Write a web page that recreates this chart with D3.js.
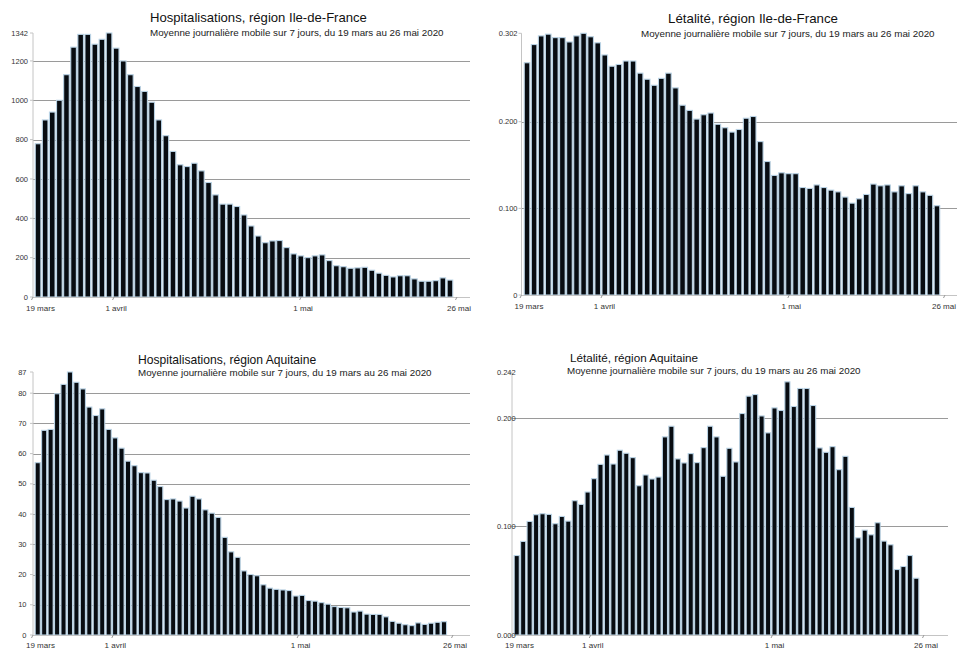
<!DOCTYPE html>
<html>
<head>
<meta charset="utf-8">
<script src="https://cdn.jsdelivr.net/npm/d3@7"></script>
<style>
  body { margin: 0; background: #fff; }
  svg { display: block; }
</style>
</head>
<body>
<script>
// Daily values, 7-day rolling mean
const hospIdf = [779, 900, 940, 1000, 1130, 1270, 1335, 1335, 1285, 1310, 1342, 1265, 1200, 1130, 1070, 1045, 990, 900, 820, 740,
  672, 663, 680, 641, 582, 519, 472, 472, 460, 417, 361, 310, 276, 285, 287, 251, 219, 209, 200, 209,
  214, 185, 159, 154, 146, 148, 151, 136, 121, 110, 102, 108, 108, 92, 80, 80, 83, 97, 86]

const letIdf = [0.268, 0.289, 0.299, 0.301, 0.297, 0.297, 0.292, 0.299, 0.302, 0.298, 0.291, 0.277, 0.264, 0.266, 0.270, 0.270,
  0.256, 0.249, 0.242, 0.250, 0.256, 0.239, 0.219, 0.213, 0.203, 0.208, 0.210, 0.197, 0.193, 0.188, 0.191, 0.204,
  0.206, 0.177, 0.154, 0.138, 0.141, 0.140, 0.140, 0.124, 0.123, 0.127, 0.124, 0.121, 0.119, 0.113, 0.106, 0.111,
  0.116, 0.128, 0.126, 0.127, 0.119, 0.126, 0.117, 0.126, 0.119, 0.115, 0.103]

const hospAq = [57, 67.7, 68, 79.8, 82.9, 87, 83.6, 81.4, 75.4, 72.6, 74.8, 68, 65.2, 61.8, 57.5, 56, 53.7, 53.6, 51.2, 49.1,
  44.8, 45, 44.3, 42, 45.9, 45, 41.4, 40.3, 38.9, 32.3, 27.5, 25.7, 21.2, 20.0, 19.6, 16.6, 15.5, 15.1, 14.9, 14.7,
  12.9, 13.1, 11.4, 11.2, 10.7, 10.2, 9.4, 9.1, 9.0, 7.6, 7.9, 6.9, 6.8, 6.8, 6.0, 4.5, 3.9, 3.4, 3.1, 4.0,
  3.5, 3.9, 4.2, 4.4]

const letAq = [0.0732, 0.0862, 0.1046, 0.1108, 0.1117, 0.1111, 0.1025, 0.1092, 0.1049, 0.1237, 0.1203, 0.1317, 0.144, 0.1572,
  0.1658, 0.1575, 0.1702, 0.1674, 0.1634, 0.1375, 0.1474, 0.1437, 0.1455, 0.1825, 0.1923, 0.1622, 0.1585, 0.1671,
  0.1588, 0.1726, 0.1923, 0.1825, 0.1462, 0.172, 0.1594, 0.204, 0.22, 0.2215, 0.2018, 0.1862, 0.2092, 0.2068,
  0.2332, 0.2105, 0.2271, 0.2271, 0.2114, 0.1723, 0.1683, 0.1735, 0.1523, 0.1646, 0.1175, 0.0895, 0.0966, 0.0923,
  0.1034, 0.0865, 0.0831, 0.0603, 0.0631, 0.0732, 0.0523]

// Y ticks (the top one is the max shown on the axis)
const hospIdfTicks = [0, 200, 400, 600, 800, 1000, 1200, 1342]
const hospIdfLabels = ['0', '200', '400', '600', '800', '1000', '1200', '1342']
const letIdfTicks = [0, 0.1, 0.2, 0.302]
const letIdfLabels = ['0', '0.100', '0.200', '0.302']
const hospAqTicks = [0, 10, 20, 30, 40, 50, 60, 70, 80, 87]
const hospAqLabels = ['0', '10', '20', '30', '40', '50', '60', '70', '80', '87']
const letAqTicks = [0, 0.1, 0.2, 0.242]
const letAqLabels = ['0.000', '0.100', '0.200', '0.242']

// Date axis
const dateStart = new Date(2020, 2, 19)
const dateEnd = new Date(2020, 4, 26)
const dateTicks = [new Date(2020, 2, 19), new Date(2020, 3, 1), new Date(2020, 4, 1), new Date(2020, 4, 26)]
const dateLabels = ['19 mars', '1 avril', '1 mai', '26 mai']

const subtitle = 'Moyenne journalière mobile sur 7 jours, du 19 mars au 26 mai 2020'

const colors = {
  bar: '#080c11',
  barEdge: '#b9d2e4',
  grid: '#9a9a9a',
  axis: '#c4c4c4',
  text: '#111',
  tick: '#333',
}

const font = "'Liberation Sans', Arial, sans-serif"

const panels = [
  {
    title: 'Hospitalisations, région Ile-de-France', values: hospIdf, ticks: hospIdfTicks, labels: hospIdfLabels,
    x0: 33, xEnd: 457, gridEnd: 470, band: [34.5, 453.5], yZero: 297, yTop: 33, labelRight: 28,
    titlePos: [150, 22], titleSize: 13.1, subPos: [150, 36], dateY: 311,
  },
  {
    title: 'Létalité, région Ile-de-France', values: letIdf, ticks: letIdfTicks, labels: letIdfLabels,
    x0: 521.5, xEnd: 945, gridEnd: 957, band: [523.5, 940.5], yZero: 295, yTop: 33.3, labelRight: 517.5,
    titlePos: [668, 23], titleSize: 13.3, subPos: [641, 37], dateY: 309,
  },
  {
    title: 'Hospitalisations, région Aquitaine', values: hospAq, ticks: hospAqTicks, labels: hospAqLabels,
    x0: 33, xEnd: 453, gridEnd: 470, band: [34.5, 447.2], yZero: 635, yTop: 372, labelRight: 26.5,
    titlePos: [138, 364], titleSize: 12.1, subPos: [138, 376], dateY: 648,
  },
  {
    title: 'Létalité, région Aquitaine', values: letAq, ticks: letAqTicks, labels: letAqLabels,
    x0: 512, xEnd: 924, gridEnd: 948, band: [513.5, 919.5], yZero: 635, yTop: 372.3, labelRight: 515.7,
    titlePos: [570, 362], titleSize: 11.7, subPos: [567, 373.5], dateY: 648,
  },
]

const svg = d3.select('body').append('svg')
  .attr('width', 957)
  .attr('height', 650)
  .attr('viewBox', '0 0 957 650')

svg.append('rect').attr('width', 957).attr('height', 650).attr('fill', '#fff')

function drawPanel(p) {
  const g = svg.append('g')
  const maxTick = p.ticks[p.ticks.length - 1]

  const x = d3.scaleBand()
    .domain(d3.range(p.values.length))
    .range(p.band)
  const y = d3.scaleLinear()
    .domain([0, maxTick])
    .range([p.yZero, p.yTop])
  const xDate = d3.scaleTime()
    .domain([dateStart, dateEnd])
    .range([p.x0, p.xEnd])

  // grid lines (not at zero nor at the max)
  p.ticks.slice(1, -1).forEach(t => {
    g.append('line')
      .attr('x1', p.x0).attr('x2', p.gridEnd)
      .attr('y1', Math.round(y(t)) + 0.5).attr('y2', Math.round(y(t)) + 0.5)
      .attr('stroke', colors.grid)
      .attr('stroke-width', 1)
  })

  // y axis line + small ticks
  g.append('line')
    .attr('x1', p.x0).attr('x2', p.x0)
    .attr('y1', y(maxTick)).attr('y2', p.yZero)
    .attr('stroke', colors.axis)
  p.ticks.forEach(t => {
    g.append('line')
      .attr('x1', p.x0 - 3).attr('x2', p.x0)
      .attr('y1', y(t)).attr('y2', y(t))
      .attr('stroke', colors.axis)
  })

  // bars
  const step = x.step()
  const w = step * 0.79
  g.selectAll('rect.bar')
    .data(p.values)
    .enter().append('rect')
    .attr('class', 'bar')
    .attr('x', (d, i) => x(i) + (step - w) / 2)
    .attr('y', d => y(d))
    .attr('width', w)
    .attr('height', d => p.yZero - y(d))
    .attr('fill', colors.bar)
    .attr('stroke', colors.barEdge)
    .attr('stroke-width', 1.1)

  // baseline
  g.append('line')
    .attr('x1', p.x0).attr('x2', p.gridEnd)
    .attr('y1', p.yZero + 0.5).attr('y2', p.yZero + 0.5)
    .attr('stroke', colors.axis)

  // y labels
  p.ticks.forEach((t, i) => {
    g.append('text')
      .attr('x', p.labelRight)
      .attr('y', y(t))
      .attr('dy', '0.35em')
      .attr('text-anchor', 'end')
      .style('font-family', font)
      .style('font-size', '7.5px')
      .style('fill', colors.tick)
      .text(p.labels[i])
  })

  // date ticks + labels
  dateTicks.forEach((d, i) => {
    const xx = xDate(d)
    g.append('line')
      .attr('x1', xx).attr('x2', xx - 1.5)
      .attr('y1', p.yZero).attr('y2', p.yZero + 3)
      .attr('stroke', '#999')
    const last = i === dateTicks.length - 1
    let lx = i === 0 ? xx - 7 : xx + 2
    if (last) lx = Math.min(lx, 944)
    g.append('text')
      .attr('x', lx)
      .attr('y', p.dateY)
      .attr('text-anchor', i === 0 ? 'start' : 'middle')
      .style('font-family', font)
      .style('font-size', '8px')
      .style('fill', colors.tick)
      .text(dateLabels[i])
  })

  // titles
  g.append('text')
    .attr('x', p.titlePos[0]).attr('y', p.titlePos[1])
    .style('font-family', font)
    .style('font-size', `${p.titleSize}px`)
    .style('fill', colors.text)
    .text(p.title)
  g.append('text')
    .attr('x', p.subPos[0]).attr('y', p.subPos[1])
    .style('font-family', font)
    .style('font-size', '9.8px')
    .style('fill', '#222')
    .text(subtitle)
}

panels.forEach(drawPanel)
</script>
</body>
</html>
